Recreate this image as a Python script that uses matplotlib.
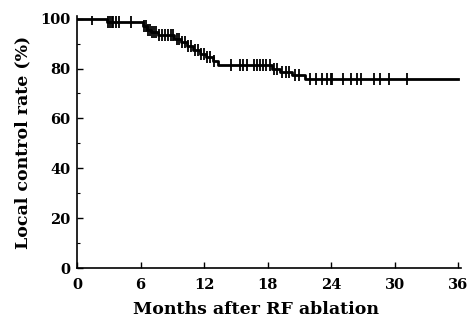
import numpy as np
import matplotlib
matplotlib.use('Agg')
from matplotlib import pyplot as plt
from matplotlib.ticker import MultipleLocator

# step curve: time of drop (months) and local control rate after it (%)
step_times = [0, 2.8, 6.2, 6.6, 7.0, 7.6, 9.2, 9.8, 10.4, 11.0, 11.6, 12.2, 12.8, 13.3, 18.4, 19.2, 20.3, 21.5]
step_rates = [100, 98.5, 97, 95.5, 94.5, 93.3, 92, 90.5, 89, 87.5, 86, 84.5, 83, 81.5, 80, 78.5, 77.5, 76]

# censored observations (months)
censor_times = [1.4, 2.9, 3.1, 3.3, 3.4, 3.7, 4.0, 5.1,
                6.3, 6.5, 6.7, 6.9, 7.1, 7.3, 7.5, 7.7, 8.0, 8.3,
                8.6, 8.9, 9.1, 9.4, 9.6, 9.9, 10.2, 10.5, 10.8, 11.1, 11.4, 11.7, 12.0, 12.3, 12.6, 12.9,
                14.5, 15.4, 15.7, 16.1, 16.7, 17.0, 17.3, 17.6, 17.9, 18.2,
                18.6, 18.9, 19.4, 19.7, 20.0, 20.6, 21.0,
                22.0, 22.6, 23.1, 23.6, 24.0, 24.1, 25.1, 25.9, 26.5, 26.8, 28.1, 28.6, 29.5, 31.2]
end_time = 36

xticks = [0, 6, 12, 18, 24, 30, 36]
yticks = [0, 20, 40, 60, 80, 100]

plt.rcParams['font.family'] = ['DejaVu Serif']
plt.rcParams['font.weight'] = 'bold'

fig = plt.figure(figsize=(4.73, 3.23), dpi=100)
ax = fig.add_axes([0.163, 0.170, 0.812, 0.780])

xs = step_times + [end_time]
ys = step_rates + [step_rates[-1]]
ax.step(xs, ys, where='post', color='black', lw=2)

idx = np.searchsorted(step_times, censor_times, side='right') - 1
cy = np.array(step_rates)[idx]
ax.plot(censor_times, cy, ls='none', marker='|', ms=8, mew=1.3, color='black')

ax.set_xlim(0, 36.3)
ax.set_ylim(0, 101)
ax.set_xticks(xticks)
ax.set_yticks(yticks)
ax.xaxis.set_minor_locator(MultipleLocator(3))
ax.yaxis.set_minor_locator(MultipleLocator(10))
ax.tick_params(axis='both', which='major', direction='in', length=4, width=1, labelsize=10.5)
ax.tick_params(axis='both', which='minor', direction='in', length=2, width=0.8)
ax.tick_params(axis='x', which='minor', length=0)
ax.tick_params(axis='y', pad=5)
ax.tick_params(axis='x', pad=7)

for s in ['top', 'right']:
    ax.spines[s].set_visible(False)
for s in ['left', 'bottom']:
    ax.spines[s].set_linewidth(1.2)

ax.set_xlabel('Months after RF ablation', fontsize=12.5, fontweight='bold', labelpad=9)
ax.xaxis.set_label_coords(0.465, -0.13)
ax.set_ylabel('Local control rate (%)', fontsize=12.5, fontweight='bold', labelpad=6)

fig.savefig('out.png', dpi=100)
